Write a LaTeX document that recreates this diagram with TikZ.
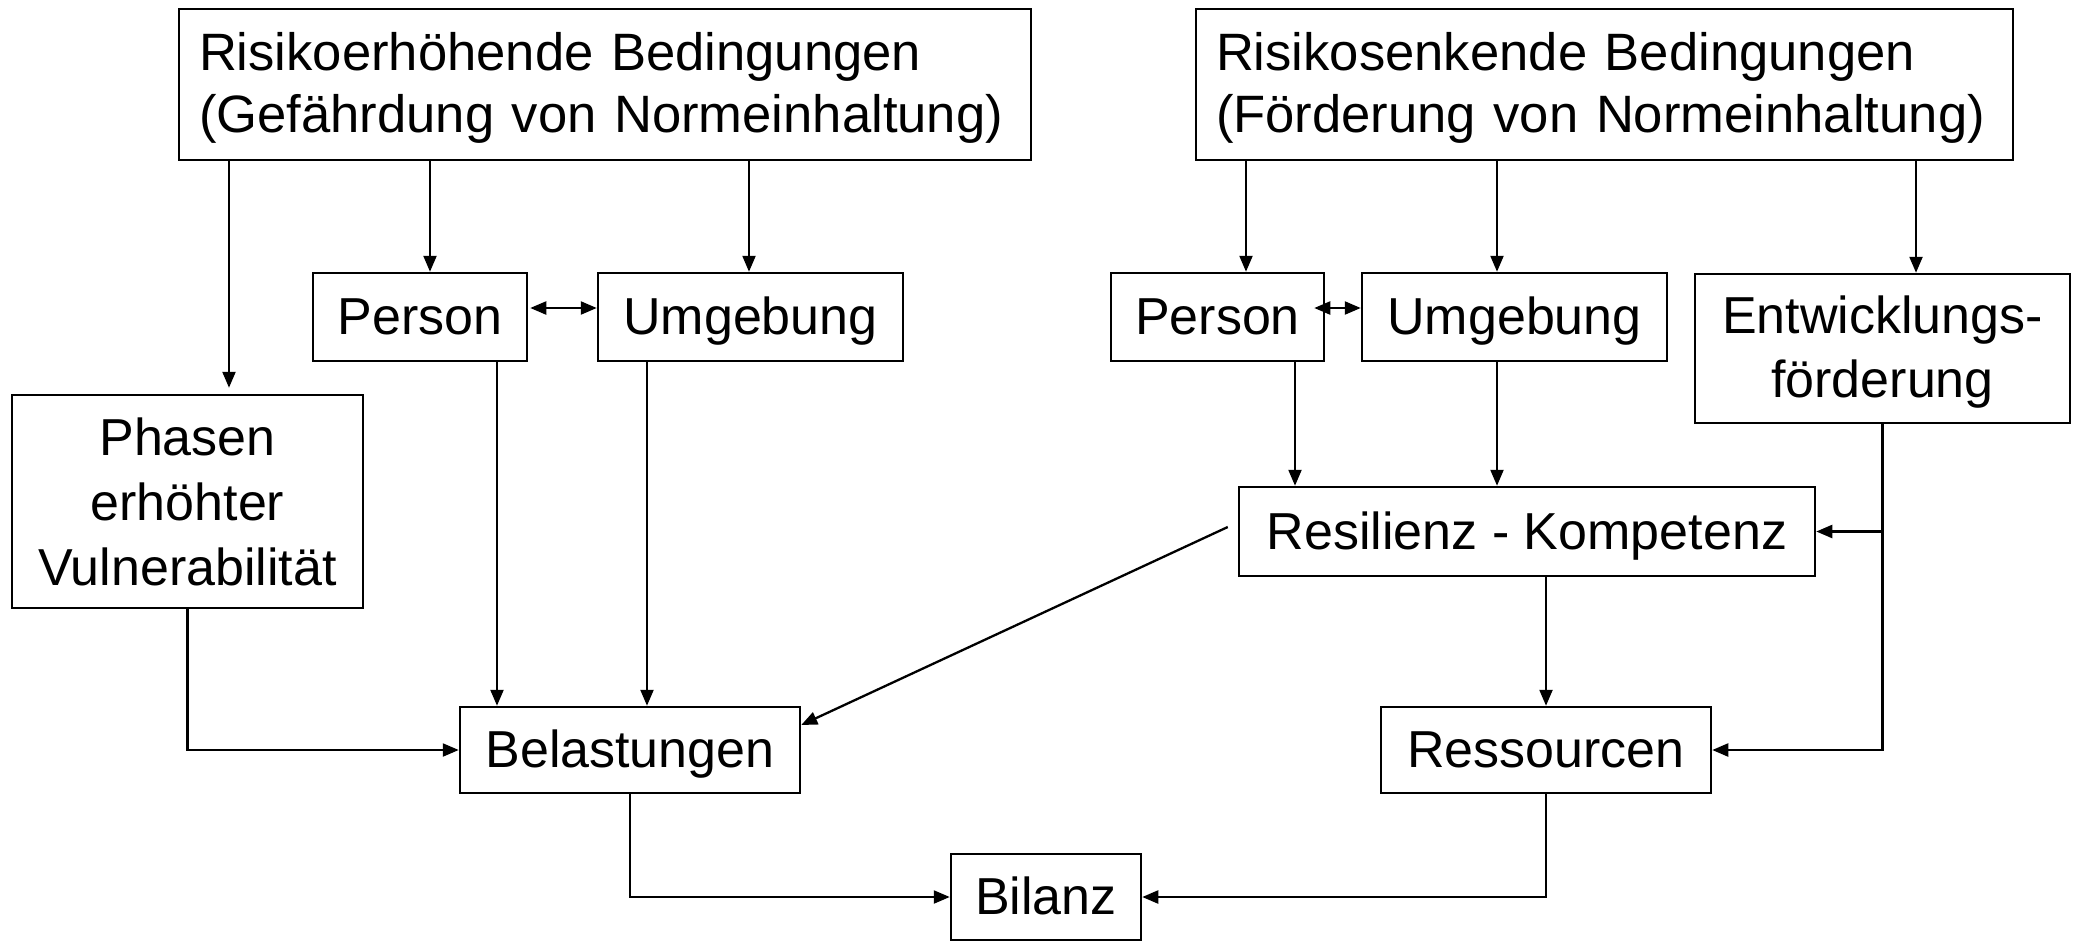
\documentclass[tikz,border=0pt]{standalone}
\usepackage{fontspec}
\setmainfont{Liberation Sans}
\usetikzlibrary{arrows.meta}
\begin{document}
\begin{tikzpicture}[x=1pt,y=-1pt,
  box/.style={draw,line width=2.5pt,inner sep=0pt,font=\fontsize{52}{62}\selectfont},
  one/.style={box,text height=37pt,text depth=2pt},
  arr/.style={line width=2.3pt,-{Triangle[length=16pt,width=13pt]}},
  darr/.style={line width=2.3pt,{Triangle[length=16pt,width=13pt]}-{Triangle[length=16pt,width=13pt]}}]
\useasboundingbox (0,0) rectangle (2076,940);
% boxes
\node[box,font=\fontsize{52.6}{62}\selectfont,text width=812pt,inner xsep=20pt,align=left,minimum height=151pt] (RH) at (605,84.5)
  {\rule{0pt}{44pt}Risikoerhöhende Bedingungen\\(Gefährdung von Normeinhaltung)};
\node[box,font=\fontsize{52.6}{62}\selectfont,text width=777pt,inner xsep=20pt,align=left,minimum height=151pt] (RS) at (1604.5,84.5)
  {\rule{0pt}{44pt}Risikosenkende Bedingungen\\(Förderung von Normeinhaltung)};
\node[one,minimum width=214pt,minimum height=88pt] (P1) at (420,317) {Person};
\node[one,minimum width=305pt,minimum height=88pt] (U1) at (750.5,317) {Umgebung};
\node[one,minimum width=213pt,minimum height=88pt] (P2) at (1217.5,317) {Person};
\node[one,minimum width=305pt,minimum height=88pt] (U2) at (1514.5,317) {Umgebung};
\node[box,minimum width=375pt,minimum height=149pt,align=center,font=\fontsize{52}{64}\selectfont] (E) at (1882.5,348.5)
  {\rule{0pt}{45pt}Entwicklungs-\\förderung};
\node[box,minimum width=351pt,minimum height=213pt,align=center,font=\fontsize{52}{65}\selectfont] (Ph) at (187.5,501.5)
  {Phasen\\erhöhter\\Vulnerabilität};
\node[one,minimum width=576pt,minimum height=89pt] (Re) at (1527,531.5) {Resilienz - Kompetenz};
\node[one,minimum width=340pt,minimum height=86pt] (Be) at (630,750) {Belastungen};
\node[one,minimum width=330pt,minimum height=86pt] (Ress) at (1546,750) {Ressourcen};
\node[one,minimum width=190pt,minimum height=86pt] (Bi) at (1046,897) {Bilanz};
% connectors left
\draw[arr,shorten >=6pt] (RH.south -| 229,0) -- (229,0 |- Ph.north);
\draw[arr] (RH.south -| 430,0) -- (430,0 |- P1.north);
\draw[arr] (RH.south -| 749,0) -- (749,0 |- U1.north);
\draw[darr] ([xshift=2pt,yshift=9pt]P1.east) -- ([yshift=9pt]U1.west);
\draw[arr] (P1.south -| 497,0) -- (497,0 |- Be.north);
\draw[arr] (U1.south -| 647,0) -- (647,0 |- Be.north);
\draw[arr] (Ph.south) |- (Be.west);
\draw[arr] ([xshift=-10pt,yshift=4.5pt]Re.west) -- ([yshift=25pt]Be.east);
\draw[arr] (Be.south) |- (Bi.west);
% connectors right
\draw[arr] (RS.south -| 1246,0) -- (1246,0 |- P2.north);
\draw[arr] (RS.south -| 1497,0) -- (1497,0 |- U2.north);
\draw[arr] (RS.south -| 1916,0) -- (1916,0 |- E.north);
\draw[darr] ([xshift=-11pt,yshift=9pt]P2.east) -- ([yshift=9pt]U2.west);
\draw[arr] (P2.south -| 1295,0) -- (1295,0 |- Re.north);
\draw[arr] (U2.south -| 1497,0) -- (1497,0 |- Re.north);
\draw[arr] (E.south) |- (Re.east);
\draw[arr] (E.south) |- (Ress.east);
\draw[arr] (Ress.north |- Re.south) -- (Ress.north);
\draw[arr] (Ress.south) |- (Bi.east);
\end{tikzpicture}
\end{document}
